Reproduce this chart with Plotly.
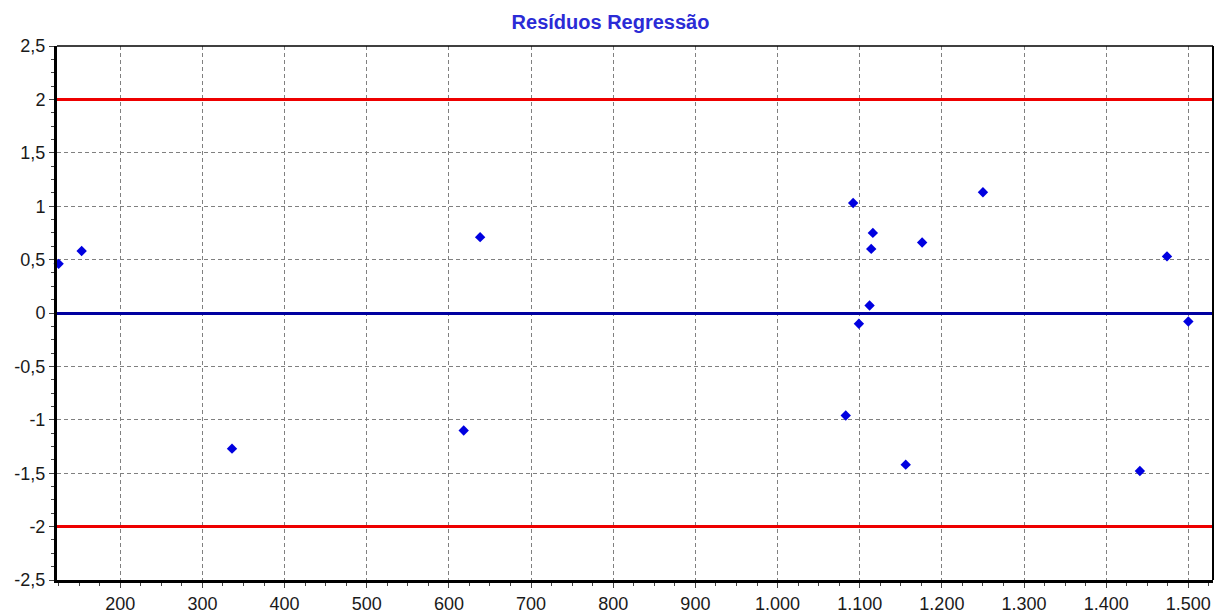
import plotly.graph_objects as go

# Data
pred_x = [125, 153, 336, 618, 638, 1083, 1092, 1099, 1112, 1114, 1116, 1156, 1176, 1250, 1441, 1474, 1500]
residuals = [0.46, 0.58, -1.27, -1.10, 0.71, -0.96, 1.03, -0.10, 0.07, 0.60, 0.75, -1.42, 0.66, 1.13, -1.48, 0.53, -0.08]
limits = [-2, 2]

x_ticks = [200, 300, 400, 500, 600, 700, 800, 900, 1000, 1100, 1200, 1300, 1400, 1500]
x_labels = ["200", "300", "400", "500", "600", "700", "800", "900",
            "1.000", "1.100", "1.200", "1.300", "1.400", "1.500"]
y_ticks = [-2.5, -2, -1.5, -1, -0.5, 0, 0.5, 1, 1.5, 2, 2.5]
y_labels = ["-2,5", "-2", "-1,5", "-1", "-0,5", "0", "0,5", "1", "1,5", "2", "2,5"]

x_range = [123, 1530]
y_range = [-2.5, 2.5]

fig = go.Figure()
fig.add_trace(go.Scatter(
    x=pred_x, y=residuals, mode="markers",
    marker=dict(symbol="diamond", size=8, color="#0000e0", line=dict(width=0)),
    cliponaxis=False, showlegend=False, hoverinfo="skip",
))

for lim in limits:
    fig.add_shape(type="line", xref="paper", x0=0, x1=1, yref="y", y0=lim, y1=lim,
                  line=dict(color="#ee0000", width=3), layer="above")

# thin top and right frame lines
fig.add_shape(type="line", xref="paper", yref="paper", x0=0, x1=1, y0=1, y1=1,
              line=dict(color="#000000", width=1.5), layer="above")
fig.add_shape(type="line", xref="paper", yref="paper", x0=1, x1=1, y0=0, y1=1,
              line=dict(color="#000000", width=2), layer="above")

tick_font = dict(family="Liberation Sans, Arial, sans-serif", size=18, color="#1a1a1a")

fig.update_xaxes(
    range=x_range, tickmode="array", tickvals=x_ticks, ticktext=x_labels,
    showgrid=True, gridcolor="#808080", gridwidth=1, griddash="4px,3px",
    showline=True, linecolor="#000000", linewidth=3,
    ticks="outside", ticklen=5, tickcolor="#444444", tickwidth=1,
    minor=dict(dtick=25, tick0=0, ticks="outside", ticklen=3, tickcolor="#444444", showgrid=False),
    zeroline=False, tickfont=tick_font, automargin=False,
)
fig.update_yaxes(
    range=y_range, tickmode="array", tickvals=y_ticks, ticktext=y_labels,
    showgrid=True, gridcolor="#808080", gridwidth=1, griddash="4px,3px",
    showline=True, linecolor="#000000", linewidth=3,
    ticks="outside", ticklen=5, tickcolor="#444444", tickwidth=1,
    minor=dict(dtick=0.125, tick0=0, ticks="outside", ticklen=3, tickcolor="#444444", showgrid=False),
    zeroline=True, zerolinecolor="#0000a0", zerolinewidth=3, tickfont=tick_font, automargin=False,
)

fig.update_layout(
    width=1221, height=614,
    margin=dict(l=57, r=8, t=46, b=34),
    paper_bgcolor="white", plot_bgcolor="white",
    title=dict(text="<b>Resíduos Regressão</b>", x=0.5, xanchor="center",
               y=1 - 22 / 614, yanchor="middle", yref="container",
               font=dict(family="Liberation Sans, Arial, sans-serif", size=20, color="#2b2bd6")),
    showlegend=False,
)

fig.write_html("out.html", config={"displayModeBar": False},
               post_script="document.body.style.margin='0';document.body.style.overflow='hidden';")
